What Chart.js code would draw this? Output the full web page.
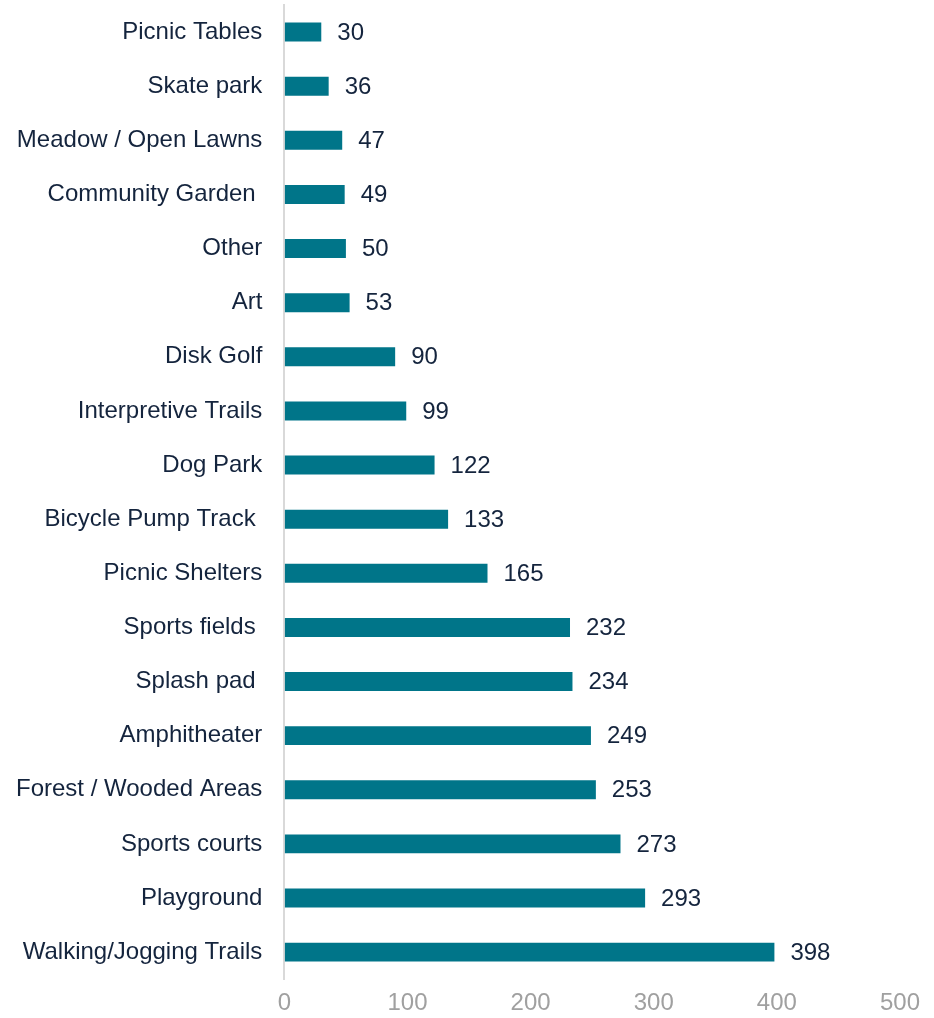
<!DOCTYPE html>
<html>
<head>
<meta charset="utf-8">
<script src="https://cdn.jsdelivr.net/npm/chart.js"></script>
<style>
  body { margin: 0; background: #fff; }
  #wrap { width: 934px; height: 1018px; }
</style>
</head>
<body>
<div id="wrap"><canvas id="amenities" width="934" height="1018"></canvas></div>
<script>
// amenity categories (top to bottom) and response counts
const amenityLabels = [
  "Picnic Tables", "Skate park", "Meadow / Open Lawns", "Community Garden ",
  "Other", "Art", "Disk Golf", "Interpretive Trails", "Dog Park",
  "Bicycle Pump Track ", "Picnic Shelters", "Sports fields ", "Splash pad ",
  "Amphitheater", "Forest / Wooded Areas", "Sports courts", "Playground",
  "Walking/Jogging Trails"
];
const amenityCounts = [30, 36, 47, 49, 50, 53, 90, 99, 122, 133, 165, 232, 234, 249, 253, 273, 293, 398];
const xTicks = [0, 100, 200, 300, 400, 500];

const barColor = "#007589";
const fontFamily = "'Liberation Sans', Arial, sans-serif";

// simple value labels at the end of each bar
const valueLabels = {
  id: "valueLabels",
  afterDatasetsDraw(chart) {
    const ctx = chart.ctx;
    const meta = chart.getDatasetMeta(0);
    ctx.save();
    ctx.font = "24px " + fontFamily;
    ctx.fillStyle = "#14243d";
    ctx.textAlign = "left";
    ctx.textBaseline = "middle";
    meta.data.forEach((bar, i) => {
      ctx.fillText(String(amenityCounts[i]), bar.x + 16, bar.y + 1);
    });
    ctx.restore();
  }
};

new Chart(document.getElementById("amenities").getContext("2d"), {
  type: "bar",
  data: {
    labels: amenityLabels,
    datasets: [{
      data: amenityCounts,
      backgroundColor: barColor,
      borderWidth: 0,
      barPercentage: 0.35,
      categoryPercentage: 1.0
    }]
  },
  options: {
    indexAxis: "y",
    responsive: false,
    animation: false,
    layout: { padding: { top: 5, right: 34, left: 16, bottom: 0 } },
    plugins: {
      legend: { display: false },
      tooltip: { enabled: false }
    },
    scales: {
      x: {
        min: 0,
        max: 500,
        afterBuildTicks: (axis) => { axis.ticks = xTicks.map(v => ({ value: v })); },
        grid: { display: true, drawOnChartArea: false, drawTicks: true, tickLength: 10, color: "rgba(0,0,0,0)" },
        border: { display: false },
        ticks: {
          color: "#a0a0a0",
          padding: 0,
          font: { family: fontFamily, size: 24 }
        }
      },
      y: {
        afterFit: (scale) => { scale.paddingTop = 0; scale.paddingBottom = 0; },
        grid: { display: true, drawOnChartArea: false, drawTicks: true, tickLength: 22, color: "rgba(0,0,0,0)" },
        border: { display: true, color: "#d9d9d9", width: 2 },
        ticks: {
          color: "#14243d",
          padding: 0,
          autoSkip: false,
          font: { family: fontFamily, size: 24 }
        }
      }
    }
  },
  plugins: [valueLabels]
});
</script>
</body>
</html>
